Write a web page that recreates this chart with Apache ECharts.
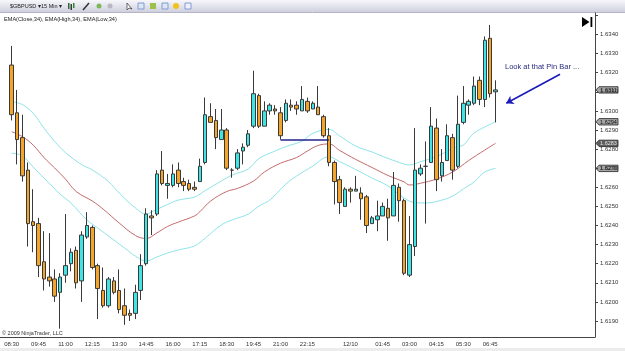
<!DOCTYPE html>
<html>
<head>
<meta charset="utf-8">
<script src="https://cdn.jsdelivr.net/npm/echarts@6/dist/echarts.min.js"></script>
<style>
  html, body { margin: 0; padding: 0; background: #fff; }
  #main { width: 625px; height: 351px; }
</style>
</head>
<body>
<div id="main"></div>
<script>
// 15 min bar times, 08:30 on 12/9 onward (incl. empty slots to the right)
const categories = [];
for (let i = 0; i < 109; i++) {
  const m = (8 * 60 + 30 + i * 15) % 1440;
  categories.push(String(Math.floor(m / 60)).padStart(2, "0") + ":" + String(m % 60).padStart(2, "0"));
}
const tickBars = [0, 5, 10, 15, 20, 25, 30, 35, 40, 45, 50, 55, 60, 63, 69, 74, 79, 84, 89];
const tickLabels = ["08:30", "09:45", "11:00", "12:15", "13:30", "14:45", "16:00", "17:15", "18:30",
  "19:45", "21:00", "22:15", "", "12/10", "01:45", "03:00", "04:15", "05:30", "06:45"];

// [open, close, low, high]
const bars = [
  [1.6324, 1.6298, 1.6295, 1.6334], [1.6299, 1.6285, 1.6272, 1.6311], [1.6286, 1.6266, 1.6263, 1.6298],
  [1.6269, 1.6241, 1.6229, 1.6273], [1.6242, 1.6240, 1.6226, 1.6259], [1.6241, 1.6219, 1.6213, 1.6244],
  [1.6221, 1.6212, 1.6206, 1.6237], [1.6213, 1.6211, 1.6208, 1.6236], [1.6212, 1.6203, 1.6200, 1.6217],
  [1.6205, 1.6213, 1.6186, 1.6215], [1.6214, 1.6219, 1.6210, 1.6246], [1.6220, 1.6226, 1.6216, 1.6228],
  [1.6227, 1.6210, 1.6207, 1.6229], [1.6211, 1.6235, 1.6200, 1.6237], [1.6234, 1.6240, 1.6233, 1.6247],
  [1.6239, 1.6218, 1.6217, 1.6240], [1.6219, 1.6207, 1.6191, 1.6220], [1.6206, 1.6198, 1.6197, 1.6218],
  [1.6198, 1.6212, 1.6197, 1.6213], [1.6211, 1.6205, 1.6204, 1.6213], [1.6206, 1.6196, 1.6194, 1.6217],
  [1.6198, 1.6193, 1.6188, 1.6207], [1.6194, 1.6193, 1.6190, 1.6196], [1.6194, 1.6205, 1.6191, 1.6209],
  [1.6206, 1.6219, 1.6201, 1.6225], [1.6220, 1.6246, 1.6219, 1.6249], [1.6245, 1.6244, 1.6235, 1.6248],
  [1.6246, 1.6267, 1.6245, 1.6269], [1.6269, 1.6262, 1.6261, 1.6279], [1.6261, 1.6262, 1.6254, 1.6267],
  [1.6261, 1.6267, 1.6260, 1.6272], [1.6269, 1.6262, 1.6260, 1.6273], [1.6263, 1.6261, 1.6258, 1.6265],
  [1.6262, 1.6259, 1.6258, 1.6264], [1.6260, 1.6259, 1.6258, 1.6263], [1.6263, 1.6271, 1.6263, 1.6275],
  [1.6273, 1.6298, 1.6272, 1.6307], [1.6297, 1.6294, 1.6294, 1.6304], [1.6295, 1.6286, 1.6280, 1.6301],
  [1.6285, 1.6290, 1.6285, 1.6301], [1.6290, 1.6270, 1.6269, 1.6291], [1.6269, 1.6269, 1.6265, 1.6270],
  [1.6270, 1.6278, 1.6269, 1.6280], [1.6279, 1.6281, 1.6272, 1.6283], [1.6282, 1.6288, 1.6281, 1.6290],
  [1.6292, 1.6309, 1.6291, 1.6321], [1.6308, 1.6292, 1.6291, 1.6309], [1.6292, 1.6300, 1.6292, 1.6305],
  [1.6300, 1.6303, 1.6298, 1.6304], [1.6301, 1.6300, 1.6298, 1.6303], [1.6299, 1.6287, 1.6285, 1.6302],
  [1.6295, 1.6304, 1.6294, 1.6306], [1.6303, 1.6302, 1.6300, 1.6306], [1.6303, 1.6301, 1.6298, 1.6305],
  [1.6300, 1.6306, 1.6300, 1.6313], [1.6305, 1.6300, 1.6299, 1.6307], [1.6301, 1.6304, 1.6301, 1.6305],
  [1.6302, 1.6298, 1.6298, 1.6313], [1.6297, 1.6287, 1.6286, 1.6298], [1.6287, 1.6273, 1.6271, 1.6291],
  [1.6273, 1.6263, 1.6251, 1.6274], [1.6264, 1.6252, 1.6246, 1.6266], [1.6250, 1.6259, 1.6250, 1.6260],
  [1.6259, 1.6258, 1.6252, 1.6260], [1.6258, 1.6259, 1.6258, 1.6266], [1.6257, 1.6254, 1.6243, 1.6260],
  [1.6255, 1.6240, 1.6236, 1.6256], [1.6241, 1.6244, 1.6241, 1.6245], [1.6243, 1.6245, 1.6237, 1.6253],
  [1.6245, 1.6250, 1.6245, 1.6252], [1.6249, 1.6244, 1.6232, 1.6254], [1.6245, 1.6261, 1.6245, 1.6268],
  [1.6260, 1.6253, 1.6242, 1.6262], [1.6253, 1.6215, 1.6214, 1.6254], [1.6214, 1.6230, 1.6213, 1.6245],
  [1.6229, 1.6269, 1.6224, 1.6291], [1.6267, 1.6270, 1.6266, 1.6272], [1.6271, 1.6271, 1.6241, 1.6284],
  [1.6273, 1.6292, 1.6273, 1.6302], [1.6291, 1.6264, 1.6258, 1.6296], [1.6266, 1.6273, 1.6263, 1.6280],
  [1.6274, 1.6287, 1.6274, 1.6293], [1.6286, 1.6269, 1.6264, 1.6288], [1.6271, 1.6293, 1.6270, 1.6308],
  [1.6294, 1.6304, 1.6293, 1.6313], [1.6303, 1.6305, 1.6298, 1.6306], [1.6304, 1.6313, 1.6303, 1.6318],
  [1.6316, 1.6306, 1.6303, 1.6318], [1.6306, 1.6337, 1.6302, 1.6339], [1.6338, 1.6309, 1.6307, 1.6345],
  [1.6310, 1.6311, 1.6294, 1.6316]
];

// EMA(High,34), EMA(Close,34), EMA(Low,34): [bar, value]
const emaHigh = [[0, 1.63048], [2, 1.63033], [4, 1.62987], [6, 1.62910], [8, 1.62840], [10, 1.62782],
  [13, 1.62719], [15, 1.62691], [18, 1.62630], [20, 1.62570], [23, 1.62492], [25, 1.62460], [26, 1.62471],
  [29, 1.62510], [31, 1.62533], [34, 1.62549], [36, 1.62583], [39, 1.62633], [41, 1.62664], [44, 1.62696],
  [46, 1.62751], [49, 1.62790], [51, 1.62813], [54, 1.62842], [56, 1.62882], [59, 1.62903], [61, 1.62869],
  [64, 1.62816], [67, 1.62785], [70, 1.62751], [73, 1.62722], [74, 1.62717], [76, 1.62734], [79, 1.62760],
  [82, 1.62803], [84, 1.62821], [85, 1.62853], [86, 1.62884], [88, 1.62916], [90, 1.62943]];
const emaClose = [[0, 1.62891], [2, 1.62865], [4, 1.62821], [6, 1.62756], [8, 1.62701], [10, 1.62643],
  [12, 1.62578], [15, 1.62528], [17, 1.62486], [20, 1.62413], [23, 1.62348], [25, 1.62332], [27, 1.62361],
  [29, 1.62395], [31, 1.62418], [34, 1.62450], [35, 1.62472], [37, 1.62528], [40, 1.62578], [42, 1.62594],
  [45, 1.62633], [47, 1.62680], [50, 1.62726], [53, 1.62756], [55, 1.62790], [57, 1.62819], [59, 1.62827],
  [61, 1.62793], [64, 1.62746], [67, 1.62704], [70, 1.62662], [73, 1.62628], [74, 1.62612], [76, 1.62621],
  [79, 1.62643], [82, 1.62680], [85, 1.62740], [88, 1.62795], [90, 1.62830]];
const emaLow = [[0, 1.62778], [2, 1.62764], [4, 1.62706], [6, 1.62649], [9, 1.62565], [11, 1.62518],
  [14, 1.62429], [16, 1.62387], [19, 1.62324], [21, 1.62282], [23, 1.62240], [25, 1.62214], [27, 1.62235],
  [29, 1.62256], [31, 1.62272], [34, 1.62293], [36, 1.62334], [39, 1.62403], [41, 1.62429], [44, 1.62460],
  [46, 1.62502], [48, 1.62533], [51, 1.62617], [53, 1.62659], [56, 1.62711], [59, 1.62759], [61, 1.62735],
  [64, 1.62693], [67, 1.62649], [70, 1.62607], [73, 1.62544], [75, 1.62520], [77, 1.62518], [80, 1.62533],
  [82, 1.62554], [84, 1.62591], [86, 1.62628], [88, 1.62680], [90, 1.62699]];

// drawn objects: horizontal line at the low of bar 50, arrow to the last bar
const pinLine = [[50, 1.6285], [59, 1.6285]];
const arrowLine = [[102, 1.63192], [92, 1.6304]];

const FONT = "Liberation Sans, Arial, sans-serif";

const chart = echarts.init(document.getElementById("main"), null, { renderer: "canvas" });

const lastClose = bars[bars.length - 1][1];

const baseGraphic = [
  // toolbar
  {
    type: "rect", shape: { x: 0, y: 0, width: 625, height: 12 }, silent: true,
    style: {
      fill: new echarts.graphic.LinearGradient(0, 0, 0, 1, [
        { offset: 0, color: "#f7f7fb" }, { offset: 1, color: "#cfd0de" }
      ])
    }
  },
  { type: "line", shape: { x1: 0, y1: 12.5, x2: 625, y2: 12.5 }, style: { stroke: "#b4b4c4", lineWidth: 1 }, silent: true },
  { type: "text", left: 10, top: 3, style: { text: "$GBPUSD ▾", fontSize: 5.5, fill: "#222", fontFamily: FONT } },
  { type: "text", left: 41, top: 3, style: { text: "15 Min ▾", fontSize: 5.5, fill: "#222", fontFamily: FONT } },
  { type: "rect", shape: { x: 68, y: 3, width: 1.5, height: 6 }, style: { fill: "#2a6a2a" } },
  { type: "rect", shape: { x: 70.5, y: 4, width: 1.5, height: 6 }, style: { fill: "#3a3a3a" } },
  { type: "rect", shape: { x: 73, y: 3, width: 1.5, height: 5 }, style: { fill: "#2a8a2a" } },
  { type: "line", shape: { x1: 83, y1: 10, x2: 89, y2: 3 }, style: { stroke: "#333", lineWidth: 1.5 } },
  { type: "circle", shape: { cx: 99, cy: 6, r: 2.5 }, style: { fill: "#7ab85a" } },
  { type: "circle", shape: { cx: 110, cy: 6, r: 2.5 }, style: { fill: "#b8b8c0" } },
  { type: "polygon", shape: { points: [[127, 3], [127, 10], [129, 8], [132, 9]] }, style: { fill: "#fff", stroke: "#333", lineWidth: 0.7 } },
  { type: "rect", shape: { x: 138, y: 3, width: 6, height: 6 }, style: { fill: "#dde6f4", stroke: "#6a8ac8", lineWidth: 0.8 } },
  { type: "rect", shape: { x: 150, y: 3, width: 6, height: 6 }, style: { fill: "#9cc04a" } },
  { type: "rect", shape: { x: 162, y: 3, width: 6, height: 6 }, style: { fill: "#dde6f4", stroke: "#6a8ac8", lineWidth: 0.8 } },
  { type: "circle", shape: { cx: 176, cy: 6, r: 3 }, style: { fill: "#f2c21c" } },
  { type: "rect", shape: { x: 185, y: 3, width: 6, height: 6 }, style: { fill: "#eef", stroke: "#6a8ac8", lineWidth: 0.8 } },
  // indicator caption
  { type: "text", left: 4, top: 16, style: { text: "EMA(Close,34), EMA(High,34), EMA(Low,34)", fontSize: 5.6, fill: "#222", fontFamily: FONT } },
  // go-to-end button
  { type: "polygon", shape: { points: [[582, 17], [582, 27], [589.5, 22]] }, style: { fill: "#000" } },
  { type: "rect", shape: { x: 590.5, y: 17, width: 1.8, height: 10 }, style: { fill: "#000" } },
  // annotation
  { type: "text", left: 505, top: 63, style: { text: "Look at that Pin Bar ...", fontSize: 7.5, fill: "#2a2a80", fontFamily: FONT } },
  // copyright
  { type: "text", left: 2, top: 330, style: { text: "© 2009 NinjaTrader, LLC", fontSize: 5.5, fill: "#333", fontFamily: FONT } },
  // axis line continuation to window edge
  { type: "line", shape: { x1: 0, y1: 337.5, x2: 9, y2: 337.5 }, style: { stroke: "#444", lineWidth: 1 } },
  // bottom window strip
  { type: "rect", shape: { x: 0, y: 348, width: 625, height: 3 }, style: { fill: "#ececec" } }
];

const option = {
  animation: false,
  backgroundColor: "#fff",
  textStyle: { fontFamily: FONT },
  grid: { left: 9, right: 30, top: 13, bottom: 14 },
  xAxis: {
    type: "category",
    data: categories,
    boundaryGap: true,
    axisLine: { lineStyle: { color: "#444", width: 1 } },
    axisTick: {
      alignWithLabel: true,
      length: 3,
      lineStyle: { color: "#444" },
      interval: function (i) { return tickBars.indexOf(i) >= 0; }
    },
    axisLabel: {
      interval: function (i) { return tickBars.indexOf(i) >= 0; },
      formatter: function (v, i) {
        const k = tickBars.indexOf(i);
        return k >= 0 ? tickLabels[k] : "";
      },
      fontSize: 6,
      color: "#333",
      margin: 4
    },
    splitLine: { show: false }
  },
  yAxis: {
    type: "value",
    position: "right",
    scale: true,
    min: 1.6181623,
    max: 1.6351257,
    splitNumber: 17,
    axisLine: { show: true, lineStyle: { color: "#444", width: 1 } },
    axisTick: { show: true, length: 3, lineStyle: { color: "#444" } },
    axisLabel: {
      showMinLabel: false,
      showMaxLabel: false,
      fontSize: 6,
      color: "#333",
      margin: 5,
      formatter: function (v) {
        const k = v * 1000;
        if (Math.abs(k - Math.round(k)) > 0.01) return "";
        if (v > 1.6345 || v < 1.6185) return "";
        return v.toFixed(4);
      }
    },
    splitLine: { show: false }
  },
  series: [
    {
      name: "EMA(High,34)", type: "line", data: emaHigh, smooth: 0.4, symbol: "none", z: 1,
      lineStyle: { color: "#8ee4ea", width: 1 }
    },
    {
      name: "EMA(Close,34)", type: "line", data: emaClose, smooth: 0.4, symbol: "none", z: 1,
      lineStyle: { color: "#c46a6a", width: 1 }
    },
    {
      name: "EMA(Low,34)", type: "line", data: emaLow, smooth: 0.4, symbol: "none", z: 1,
      lineStyle: { color: "#8ee4ea", width: 1 }
    },
    {
      name: "$GBPUSD",
      type: "candlestick",
      data: bars,
      barWidth: 4,
      z: 3,
      itemStyle: {
        color: "#3fe4e4",
        color0: "#f4a428",
        borderColor: "#3a3a3a",
        borderColor0: "#3a3a3a",
        borderWidth: 1
      },
      markLine: {
        silent: true,
        symbol: "none",
        animation: false,
        label: { show: false },
        data: [
          [
            { coord: pinLine[0], lineStyle: { color: "#23238f", width: 1.5, type: "solid" } },
            { coord: pinLine[1] }
          ],
          [
            { coord: arrowLine[0], symbol: "none", lineStyle: { color: "#1a1ab8", width: 1.5, type: "solid" } },
            { coord: arrowLine[1], symbol: "arrow", symbolSize: 7 }
          ]
        ]
      }
    }
  ],
  graphic: baseGraphic
};

chart.setOption(option);

// price markers on the right axis, placed through the y scale
const tags = [
  { value: lastClose, fill: "#a4a4a4", text: "#111" },
  { value: emaHigh[emaHigh.length - 1][1], fill: "#a4a4a4", text: "#111" },
  { value: emaClose[emaClose.length - 1][1], fill: "#5e5e5e", text: "#e4e4e4" },
  { value: emaLow[emaLow.length - 1][1], fill: "#a4a4a4", text: "#111" }
];
const axisX = chart.convertToPixel({ xAxisIndex: 0 }, categories.length - 1) + 586 / categories.length / 2;
const tagGraphic = tags.map(function (t) {
  const y = chart.convertToPixel({ yAxisIndex: 0 }, t.value);
  return {
    type: "group",
    z: 100,
    children: [
      {
        type: "polygon",
        shape: { points: [[axisX + 1, y], [axisX + 4, y - 3.2], [axisX + 23, y - 3.2], [axisX + 23, y + 3.2], [axisX + 4, y + 3.2]] },
        style: { fill: t.fill, stroke: "#222", lineWidth: 0.8 }
      },
      {
        type: "text",
        x: axisX + 13.5,
        y: y + 0.3,
        style: { text: t.value.toFixed(4), fontSize: 5.5, fill: t.text, align: "center", verticalAlign: "middle", fontFamily: FONT }
      }
    ]
  };
});
chart.setOption({ graphic: baseGraphic.concat(tagGraphic) });
</script>
</body>
</html>
